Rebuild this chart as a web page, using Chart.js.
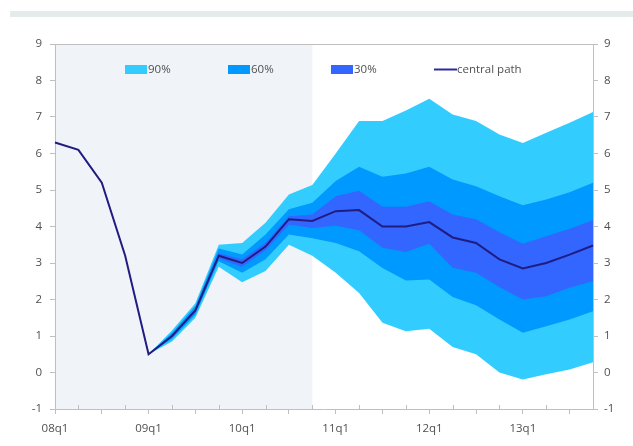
<!DOCTYPE html>
<html>
<head>
<meta charset="utf-8">
<script src="https://cdn.jsdelivr.net/npm/chart.js@4.4.1/dist/chart.umd.min.js"></script>
<style>
  html, body { margin: 0; padding: 0; background: #ffffff; }
  #wrap { position: relative; width: 633px; height: 446px; }
  #topbar { position: absolute; left: 10px; top: 11px; width: 623px; height: 6px; background: #E5EAEB; }
  canvas { position: absolute; left: 0; top: 0; }
</style>
</head>
<body>
<div id="wrap">
  <div id="topbar"></div>
  <canvas id="chart" width="633" height="446"></canvas>
</div>
<script>
// Quarterly categories, 2008 Q1 to 2013 Q4
const quarters = [
  '08q1','08q2','08q3','08q4',
  '09q1','09q2','09q3','09q4',
  '10q1','10q2','10q3','10q4',
  '11q1','11q2','11q3','11q4',
  '12q1','12q2','12q3','12q4',
  '13q1','13q2','13q3','13q4'
];

// Central projection path
const centralPath = [6.3, 6.1, 5.2, 3.2, 0.5, 1.0, 1.7, 3.2, 3.0, 3.45, 4.2, 4.15,
                     4.42, 4.45, 4.0, 4.0, 4.12, 3.7, 3.55, 3.1, 2.85, 3.0, 3.23, 3.48];

// Probability bands (lower / upper bounds)
const band90Low  = [null, null, null, null, 0.5, 0.85, 1.5, 2.9, 2.47, 2.78, 3.5, 3.2,
                    2.73, 2.18, 1.36, 1.13, 1.2, 0.7, 0.5, 0.0, -0.19, -0.05, 0.08, 0.28];
const band90High = [null, null, null, null, 0.5, 1.15, 1.9, 3.5, 3.55, 4.1, 4.88, 5.14,
                    6.0, 6.89, 6.89, 7.18, 7.5, 7.07, 6.89, 6.52, 6.29, 6.57, 6.84, 7.14];
const band60Low  = [null, null, null, null, 0.5, 0.92, 1.58, 3.05, 2.73, 3.1, 3.78, 3.68,
                    3.55, 3.32, 2.86, 2.52, 2.55, 2.07, 1.84, 1.45, 1.09, 1.27, 1.45, 1.68];
const band60High = [null, null, null, null, 0.5, 1.08, 1.82, 3.4, 3.23, 3.78, 4.47, 4.65,
                    5.25, 5.64, 5.36, 5.45, 5.64, 5.29, 5.1, 4.83, 4.58, 4.74, 4.94, 5.2];
const band30Low  = [null, null, null, null, 0.5, 0.97, 1.65, 3.12, 2.9, 3.35, 4.05, 3.96,
                    4.02, 3.9, 3.42, 3.3, 3.53, 2.87, 2.73, 2.34, 2.0, 2.09, 2.32, 2.5];
const band30High = [null, null, null, null, 0.5, 1.03, 1.75, 3.27, 3.1, 3.55, 4.28, 4.33,
                    4.83, 4.98, 4.54, 4.54, 4.69, 4.33, 4.2, 3.84, 3.53, 3.73, 3.94, 4.17];

// Last quarter of outturn data (shaded history)
const lastOutturn = '10q4';

const legendLabels = ['90%', '60%', '30%', 'central path'];

const C90 = '#33CCFF', C60 = '#0099FF', C30 = '#3366FF', CLINE = '#201C82';
const AXIS = '#BFBFBF';
const TEXT = '#505050';
const FONT = "'Open Sans', 'DejaVu Sans', sans-serif";

function band(data, color, fill) {
  return { data, borderWidth: 0, pointRadius: 0, tension: 0,
           backgroundColor: color, borderColor: color, fill: fill, yAxisID: 'y' };
}

// Shaded outturn period, top frame line and inner minor ticks on the category axis
const frame = {
  id: 'frame',
  beforeDraw(chart) {
    const { ctx, chartArea, scales } = chart;
    const x0 = scales.x.getPixelForValue(0);
    const x1 = scales.x.getPixelForValue(quarters.indexOf(lastOutturn));
    ctx.save();
    ctx.fillStyle = '#F0F3F8';
    ctx.fillRect(x0, chartArea.top, x1 - x0, chartArea.bottom - chartArea.top);
    ctx.restore();
  },
  afterDraw(chart) {
    const { ctx, chartArea, scales } = chart;
    ctx.save();
    ctx.strokeStyle = AXIS;
    ctx.lineWidth = 1;
    ctx.beginPath();
    ctx.moveTo(chartArea.left, chartArea.top + 0.5);
    ctx.lineTo(chartArea.right, chartArea.top + 0.5);
    quarters.forEach((q, i) => {
      if (i % 2 === 1) {
        const px = Math.round(scales.x.getPixelForValue(i)) + 0.5;
        ctx.moveTo(px, chartArea.bottom);
        ctx.lineTo(px, chartArea.bottom - 4);
      }
    });
    ctx.stroke();
    ctx.restore();
  }
};

// Legend drawn inside the plot area
const innerLegend = {
  id: 'innerLegend',
  afterDraw(chart) {
    const { ctx, chartArea } = chart;
    const colors = [C90, C60, C30, CLINE];
    const y = chartArea.top + 25;
    ctx.save();
    ctx.font = '11.5px ' + FONT;
    ctx.textBaseline = 'middle';
    ctx.textAlign = 'left';
    legendLabels.forEach((lab, i) => {
      const x = chartArea.left + 70 + i * 103;
      if (i < 3) {
        ctx.fillStyle = colors[i];
        ctx.fillRect(x, y - 4, 22, 9);
      } else {
        ctx.strokeStyle = '#2E2A9A';
        ctx.lineWidth = 2;
        ctx.beginPath();
        ctx.moveTo(x, y + 0.5);
        ctx.lineTo(x + 23, y + 0.5);
        ctx.stroke();
      }
      ctx.fillStyle = TEXT;
      ctx.fillText(lab, x + 23, y + 1);
    });
    ctx.restore();
  }
};

const tickFont = { family: FONT, size: 11.5 };

new Chart(document.getElementById('chart'), {
  type: 'line',
  data: {
    labels: quarters,
    datasets: [
      { label: 'central path', data: centralPath, borderColor: CLINE, borderWidth: 2,
        pointRadius: 0, tension: 0, fill: false, yAxisID: 'y' },
      band(band30Low, C30, false),
      band(band30High, C30, '-1'),
      band(band60Low, C60, false),
      band(band60High, C60, '-1'),
      band(band90Low, C90, false),
      band(band90High, C90, '-1')
    ]
  },
  options: {
    responsive: false,
    animation: false,
    devicePixelRatio: 1,
    layout: { padding: { top: 44, left: 0, right: 0, bottom: 0 } },
    plugins: {
      legend: { display: false },
      tooltip: { enabled: false },
      filler: { propagate: false }
    },
    scales: {
      x: {
        type: 'category',
        offset: false,
        grid: {
          drawOnChartArea: false, drawTicks: true, tickLength: 5, color: AXIS,
          tickColor: (c) => (c.index % 2 === 0 ? AXIS : 'rgba(0,0,0,0)')
        },
        border: { display: true, color: AXIS },
        ticks: {
          autoSkip: false, maxRotation: 0, padding: 8, color: TEXT, font: tickFont,
          callback(v) { const l = quarters[v]; return l.endsWith('q1') ? l : ''; }
        },
        afterFit(s) { s.height = 37; }
      },
      y: {
        position: 'left', min: -1, max: 9,
        grid: { drawOnChartArea: false, drawTicks: true, tickLength: 5, color: AXIS },
        border: { display: true, color: AXIS },
        ticks: { stepSize: 1, padding: 8, color: TEXT, font: tickFont },
        afterFit(s) { s.width = 55; }
      },
      y2: {
        position: 'right', min: -1, max: 9,
        grid: { drawOnChartArea: false, drawTicks: true, tickLength: 5, color: AXIS },
        border: { display: true, color: AXIS },
        ticks: { stepSize: 1, padding: 6, color: TEXT, font: tickFont },
        afterFit(s) { s.width = 40; }
      }
    }
  },
  plugins: [frame, innerLegend]
});
</script>
</body>
</html>
